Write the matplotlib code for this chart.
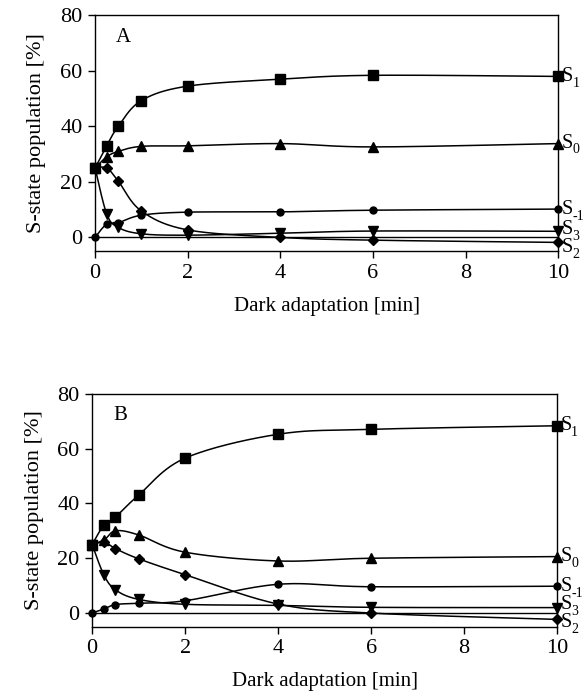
import numpy as np
import matplotlib
matplotlib.use("Agg")
from matplotlib import pyplot as plt

plt.rcParams['font.family'] = ['Liberation Serif', 'DejaVu Serif']

# dark adaptation times [min]
times = [0, 0.25, 0.5, 1, 2, 4, 6, 10]

# panel A
a_s1 = [25, 33, 40, 49.3, 54.5, 57, 58.4, 58]
a_s0 = [25, 29, 31, 32.8, 33, 33.8, 32.6, 33.8]
a_sm1 = [0, 4.8, 5.3, 8, 9.1, 9.2, 9.8, 10.2]
a_s3 = [25, 8.5, 3.6, 1.3, 0.8, 1.5, 2.3, 2.2]
a_s2 = [25, 25, 20.3, 9.5, 2.7, 0, -1, -1.8]

# panel B
b_s1 = [25, 32, 35, 43, 56.5, 65.2, 67, 68.3]
b_s0 = [25, 26.5, 30, 28.5, 22.2, 19, 20, 20.6]
b_sm1 = [0, 1.5, 3.1, 3.6, 4.5, 10.5, 9.6, 9.8]
b_s3 = [25, 14, 8.5, 5, 3.2, 2.8, 2.1, 2]
b_s2 = [25, 26, 23.5, 19.8, 14, 3.3, 0, -2.3]

subs = ["1", "0", "-1", "3", "2"]
markers = ["s", "^", "o", "v", "D"]
msizes = [7.5, 7, 5, 7, 5]


def smooth(x, y, sx, sy, n=30):
    # excel-like smoothed line (catmull-rom in scaled space)
    p = np.column_stack([np.array(x) * sx, np.array(y) * sy])
    p = np.vstack([p[0], p, p[-1]])
    out = []
    t = np.linspace(0, 1, n)[:, None]
    for i in range(1, len(p) - 2):
        p0, p1, p2, p3 = p[i - 1], p[i], p[i + 1], p[i + 2]
        c1 = p1 + (p2 - p0) / 6
        c2 = p2 - (p3 - p1) / 6
        seg = ((1 - t) ** 3) * p1 + 3 * ((1 - t) ** 2) * t * c1 + 3 * (1 - t) * t ** 2 * c2 + t ** 3 * p2
        out.append(seg)
    out = np.vstack(out)
    return out[:, 0] / sx, out[:, 1] / sy


def panel(ax, series, letter, label_y):
    sx = 4.63 / 10
    sy = 2.35 / 85
    ax.axhline(0, color='black', lw=1.0)
    for vals, m, ms in zip(series, markers, msizes):
        xs, ys = smooth(times, vals, sx, sy)
        ax.plot(xs, ys, color='black', lw=1.1, clip_on=False)
        ax.plot(times, vals, ls='none', marker=m, ms=ms, color='black', clip_on=False)
    for sub, yy in zip(subs, label_y):
        ax.text(10.07, yy, "S", fontsize=14.5, va='center', ha='left')
        ax.annotate(sub, (10.07, yy), xytext=(7.8, -5), textcoords='offset points',
                    fontsize=10, va='center', ha='left', annotation_clip=False)
    ax.text(0.45, 72, letter, fontsize=15, va='center', ha='left')
    ax.set_xlim(0, 10)
    ax.set_ylim(-5, 80)
    ax.set_xticks([0, 2, 4, 6, 8, 10])
    ax.set_yticks([0, 20, 40, 60, 80])
    ax.tick_params(direction='out', length=5, width=1, labelsize=16, pad=4)
    for s in ax.spines.values():
        s.set_linewidth(1.0)
    ax.set_xlabel("Dark adaptation [min]", fontsize=15, labelpad=10)
    ax.set_ylabel("S-state population [%]", fontsize=16, labelpad=10)


fig = plt.figure(figsize=(5.87, 6.98), dpi=100)
ax1 = fig.add_axes([0.162, 0.640, 0.789, 0.338])
ax2 = fig.add_axes([0.157, 0.102, 0.792, 0.334])

panel(ax1, [a_s1, a_s0, a_sm1, a_s3, a_s2], "A", [58, 34, 10.2, 3.0, -3.6])
panel(ax2, [b_s1, b_s0, b_sm1, b_s3, b_s2], "B", [68.3, 20.6, 9.8, 3.0, -3.6])

fig.savefig("out.png", dpi=100)
